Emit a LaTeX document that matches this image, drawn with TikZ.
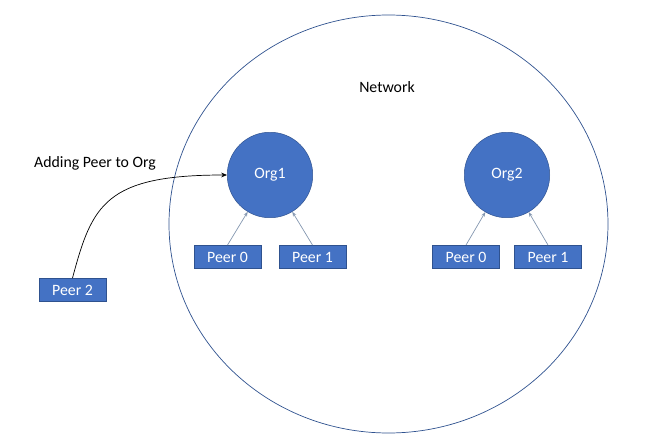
\documentclass[tikz,border=0pt]{standalone}
\usepackage{fontspec}
\setmainfont{Carlito}
\usetikzlibrary{arrows.meta}
\definecolor{orgblue}{HTML}{4472C4}
\definecolor{edgeblue}{HTML}{2F528F}
\definecolor{linkgray}{HTML}{8497B0}

\begin{document}
\begin{tikzpicture}[x=0.03cm, y=-0.03cm,
    label font/.style = {font=\fontsize{13.5}{16}\selectfont},
    org/.style = {circle, fill=orgblue, draw=edgeblue, minimum size=73pt, inner sep=0pt, text=white, label font},
    peer/.style = {rectangle, fill=orgblue, draw=edgeblue, minimum width=57pt, minimum height=20pt, inner sep=0pt, text=white, label font},
    link/.style = {linkgray, semithick, -{Stealth[length=4pt, width=3pt]}}]
    % Rahmen
    \useasboundingbox (0,0) rectangle (660,445);
    % Netzwerk
    \draw[edgeblue, semithick] (388.5,224) ellipse [x radius=219.5, y radius=209];
    \node[label font] (network) at (387,87) {Network};

    % Organisationen
    \node[org] (org1) at (270,175) {Org1};
    \node[org] (org2) at (507,175) {Org2};

    % Peers
    \node[peer] (o1p0) at (227.5,257) {Peer 0};
    \node[peer] (o1p1) at (312.5,257) {Peer 1};
    \node[peer] (o2p0) at (466,257) {Peer 0};
    \node[peer] (o2p1) at (548,257) {Peer 1};
    \node[peer] (p2) at (72.5,290) {Peer 2};

    % Verbindungen
    \draw[link] (o1p0.north) -- (org1);
    \draw[link] (o1p1.north) -- (org1);
    \draw[link] (o2p0.north) -- (org2);
    \draw[link] (o2p1.north) -- (org2);

    % neuer Peer
    \draw[black, semithick, -{Stealth[length=5pt, width=4pt]}] (p2.north) .. controls (92,205) and (105,175) .. (org1.west);
    \node[anchor=west, label font] (adding) at (30,163) {Adding Peer to Org};
\end{tikzpicture}
\end{document}
